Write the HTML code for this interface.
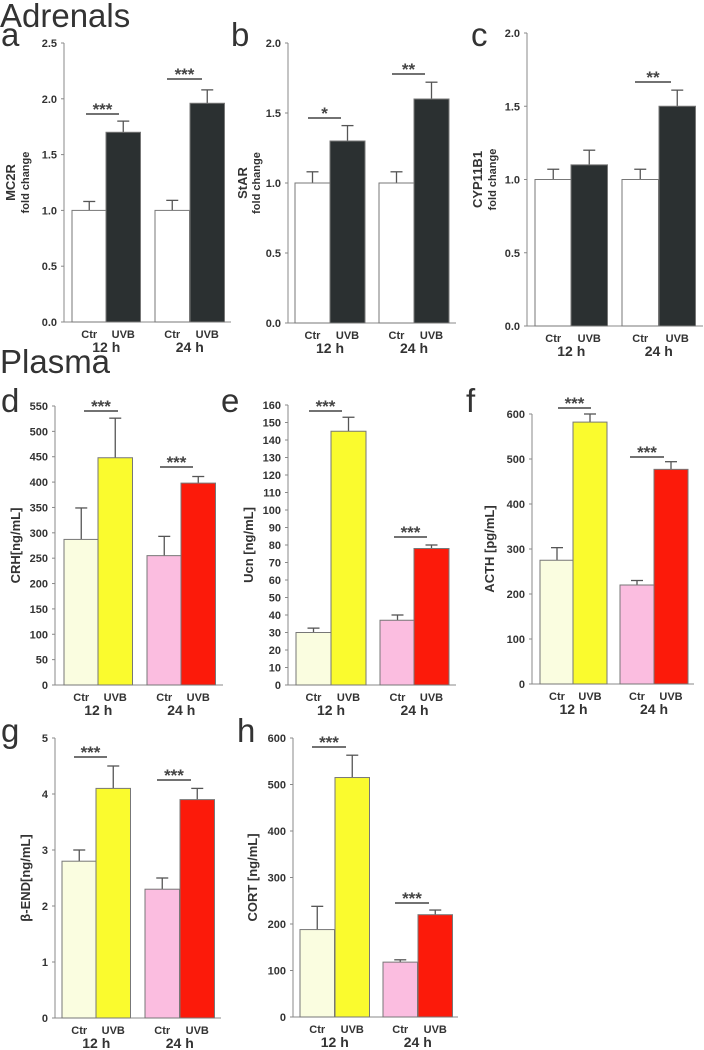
<!DOCTYPE html>
<html><head><meta charset="utf-8"><style>
html,body{margin:0;padding:0;background:#fff;}
svg{display:block;font-family:"Liberation Sans",Arial,sans-serif;}
.t{font-size:11px;font-weight:bold;fill:#333;}
</style></head><body>
<svg id="fig" width="704" height="1050" viewBox="0 0 704 1050">
<text x="0" y="27" font-size="33" fill="#333">Adrenals</text>
<text x="0" y="373" font-size="33" fill="#333">Plasma</text>
</svg>
<script>
const groups = ["12 h","24 h"];
const barLabels = ["Ctr","UVB","Ctr","UVB"];
const aValues=[1.0,1.7,1.0,1.96], aErrors=[0.08,0.1,0.09,0.12], aTicks=[0,0.5,1.0,1.5,2.0,2.5];
const bValues=[1.0,1.3,1.0,1.6], bErrors=[0.08,0.11,0.08,0.12], bTicks=[0,0.5,1.0,1.5,2.0];
const cValues=[1.0,1.1,1.0,1.5], cErrors=[0.07,0.1,0.07,0.11], cTicks=[0,0.5,1.0,1.5,2.0];
const dValues=[287,448,255,398], dErrors=[62,78,38,13], dTicks=[0,50,100,150,200,250,300,350,400,450,500,550];
const eValues=[30,145,37,78], eErrors=[2.5,8,3,2], eTicks=[0,10,20,30,40,50,60,70,80,90,100,110,120,130,140,150,160];
const fValues=[275,582,220,477], fErrors=[28,18,10,17], fTicks=[0,100,200,300,400,500,600];
const gValues=[2.8,4.1,2.3,3.9], gErrors=[0.2,0.4,0.2,0.2], gTicks=[0,1,2,3,4,5];
const hValues=[188,515,118,220], hErrors=[50,48,5,10], hTicks=[0,100,200,300,400,500,600];
const darkColors=["#ffffff","#2b3031","#ffffff","#2b3031"];
const plasmaColors=["#fafde0","#fafb2e","#fbbde0","#fc1a0a"];

const svg=document.getElementById('fig');
const NS="http://www.w3.org/2000/svg";
function mk(tag,at,txt){const e=document.createElementNS(NS,tag);for(const k in at)e.setAttribute(k,at[k]);if(txt!==undefined)e.textContent=txt;svg.appendChild(e);return e;}

function panel(p){
  const yS=v=>p.y0-(v/p.max)*(p.y0-p.yTop);
  const ax=mk('line',{x1:p.ax,y1:p.yTop,x2:p.ax,y2:p.y0,stroke:'#888','stroke-width':1});
  
  
  const xa=mk('line',{x1:p.ax,y1:p.y0,x2:p.xEnd,y2:p.y0,stroke:'#888','stroke-width':1});
  
  
  p.ticks.forEach(t=>{
    const y=yS(t);
    const tl=mk('line',{x1:p.ax-3,y1:y,x2:p.ax,y2:y,stroke:'#888'});
    
    
    const tx=mk('text',{x:p.ax-7,y:y+4,'text-anchor':'end',class:'t'},p.fmt(t));
    
    
  });
  p.values.forEach((v,i)=>{
    const x=p.bx[i], w=p.bw, y=yS(v), ye=yS(v+p.errors[i]);
    const cx=x+w/2;
    const el=mk('line',{x1:cx,y1:y,x2:cx,y2:ye,stroke:'#555','stroke-width':1.3});
    
    
    const ec=mk('line',{x1:cx-6,y1:ye,x2:cx+6,y2:ye,stroke:'#555','stroke-width':1.3});
    
    
    const r=mk('rect',{x:x,y:y,width:w,height:p.y0-y,fill:p.colors[i],stroke:'#777','stroke-width':1});
    
    
    const lb=mk('text',{x:cx,y:p.y0+16,'text-anchor':'middle',class:'t','font-size':'12'},barLabels[i]);
    
    
  });
  [0,1].forEach(g=>{
    const cx=(p.bx[2*g]+p.bx[2*g+1]+p.bw)/2;
    const gl=mk('text',{x:cx,y:p.y0+30,'text-anchor':'middle','font-size':'14','font-weight':'bold',fill:'#333'},groups[g]);
    
    
  });
  p.sig.forEach(s=>{
    const sl=mk('line',{x1:s[0],y1:s[2],x2:s[1],y2:s[2],stroke:'#444','stroke-width':1.6});
    
    
    const st=mk('text',{x:(s[0]+s[1])/2,y:s[2]+1,'text-anchor':'middle','font-size':'17','font-weight':'bold',fill:'#444'},s[3]);
    
    
  });
  const L=mk('text',{x:p.lx,y:p.ly,'font-size':'33',fill:'#333'},p.letter);
  
  
  const my=(p.yTop+p.y0)/2;
  p.titles.forEach(t=>{
    const tt=mk('text',{x:t[0],y:my,transform:`rotate(-90 ${t[0]} ${my})`,'text-anchor':'middle','font-size':t[2],'font-weight':t[3]||'normal',fill:'#333'},t[1]);
    
    
  });
}
const f1=t=>t.toFixed(1), f0=t=>String(t);
panel({id:'a',letter:'a',lx:1,ly:46,ax:64,yTop:43,y0:322,max:2.5,xEnd:231,bw:34.5,bx:[72,106,155,190],values:aValues,errors:aErrors,ticks:aTicks,fmt:f1,colors:darkColors,
  sig:[[86,119,114,'***'],[167,202,79,'***']],titles:[[15,'MC2R',13,'bold'],[29,'fold change',11,'bold']]});
panel({id:'b',letter:'b',lx:231,ly:46,ax:288,yTop:43,y0:323,max:2.0,xEnd:456,bw:35,bx:[295,330,379,414],values:bValues,errors:bErrors,ticks:bTicks,fmt:f1,colors:darkColors,
  sig:[[308,341,118,'*'],[392,425,74,'**']],titles:[[247,'StAR',13,'bold'],[260,'fold change',11,'bold']]});
panel({id:'c',letter:'c',lx:471,ly:46,ax:527,yTop:33,y0:326,max:2.0,xEnd:703,bw:36.5,bx:[535,571,622,659],values:cValues,errors:cErrors,ticks:cTicks,fmt:f1,colors:darkColors,
  sig:[[635,671,82,'**']],titles:[[482,'CYP11B1',13,'bold'],[496,'fold change',11,'bold']]});
panel({id:'d',letter:'d',lx:1,ly:412,ax:55,yTop:406,y0:685,max:550,xEnd:223,bw:34.5,bx:[64,98,147,181],values:dValues,errors:dErrors,ticks:dTicks,fmt:f0,colors:plasmaColors,
  sig:[[84,118,411,'***'],[160,193,467,'***']],titles:[[20,'CRH[ng/mL]',13,'bold']]});
panel({id:'e',letter:'e',lx:221,ly:412,ax:288,yTop:405,y0:685,max:160,xEnd:456,bw:35,bx:[296,331,380,414],values:eValues,errors:eErrors,ticks:eTicks,fmt:f0,colors:plasmaColors,
  sig:[[309,342,411,'***'],[394,427,537,'***']],titles:[[253,'Ucn [ng/mL]',13,'bold']]});
panel({id:'f',letter:'f',lx:466,ly:412,ax:532,yTop:414,y0:684,max:600,xEnd:694,bw:34,bx:[540,573,620,654],values:fValues,errors:fErrors,ticks:fTicks,fmt:f0,colors:plasmaColors,
  sig:[[558,591,408,'***'],[630,664,457,'***']],titles:[[494,'ACTH [pg/mL]',13,'bold']]});
panel({id:'g',letter:'g',lx:1,ly:742,ax:55,yTop:738,y0:1018,max:5,xEnd:221,bw:34.5,bx:[62,96,145,180],values:gValues,errors:gErrors,ticks:gTicks,fmt:f0,colors:plasmaColors,
  sig:[[74,107,757,'***'],[157,191,780,'***']],titles:[[30,'β-END[ng/mL]',13,'bold']]});
panel({id:'h',letter:'h',lx:237,ly:742,ax:293,yTop:738,y0:1017,max:600,xEnd:458,bw:34.5,bx:[300,335,383,418],values:hValues,errors:hErrors,ticks:hTicks,fmt:f0,colors:plasmaColors,
  sig:[[312,346,747,'***'],[395,429,903,'***']],titles:[[257,'CORT [ng/mL]',13,'bold']]});
</script>
</body></html>
